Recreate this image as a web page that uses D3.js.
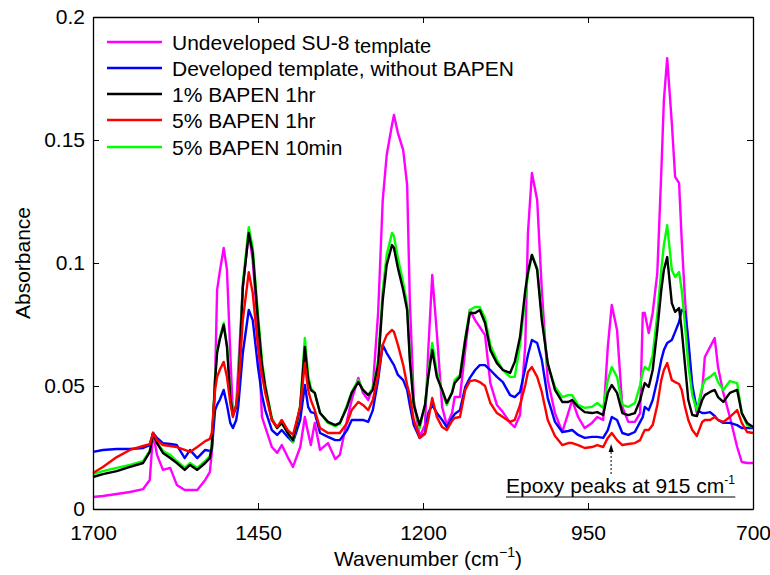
<!DOCTYPE html>
<html>
<head>
<meta charset="utf-8">
<script src="https://cdn.jsdelivr.net/npm/d3@7"></script>
<style>
  body { margin: 0; background: #fff; }
  text { font-family: "Liberation Sans", Arial, Helvetica, sans-serif; }
</style>
</head>
<body>
<svg id="chart" width="770" height="575"></svg>
<script>
// ---------------- DATA ----------------
const wavenumber = [
  1700,1685,1664,1644,1624,1614,1609,1603,1594,1583,
  1573,1561,1553,1542,1530,1523,1520,1515,1512,1508,
  1502,1497,1492,1488,1483,1480,1473,1464,1458,1450,
  1444,1439,1429,1421,1414,1405,1397,1386,1379,1374,
  1370,1364,1356,1344,1333,1326,1315,1308,1298,1291,
  1283,1276,1268,1261,1255,1247,1244,1238,1230,1224,
  1220,1214,1205,1197,1192,1186,1179,1171,1164,1156,
  1152,1144,1136,1129,1121,1114,1106,1098,1088,1079,
  1068,1061,1053,1045,1041,1035,1027,1020,1011,1000,
  989,980,974,965,955,944,936,927,920,914,
  906,898,889,879,871,867,864,858,852,845,
  839,835,830,823,818,812,808,803,798,792,
  785,777,773,765,758,753,745,735,724,717,
  709,700
];

const undevelopedSU8 = [
  .0049,.0053,.0061,.0069,.0081,.0118,.0309,.0220,.0159,.0167,
  .0098,.0077,.0077,.0077,.0118,.0150,.0228,.0524,.0890,.0963,
  .1061,.0972,.0634,.0382,.0423,.0565,.0902,.1126,.1012,.0728,
  .0374,.0333,.0252,.0228,.0260,.0211,.0171,.0252,.0374,.0309,
  .0260,.0350,.0240,.0268,.0203,.0220,.0362,.0443,.0533,.0472,
  .0443,.0496,.0797,.1256,.1439,.1561,.1602,.1528,.1459,.1317,
  .0850,.0443,.0293,.0341,.0646,.0951,.0715,.0415,.0341,.0390,
  .0455,.0455,.0646,.0809,.0768,.0740,.0707,.0512,.0423,.0394,
  .0350,.0333,.0382,.0667,.1122,.1366,.1256,.0890,.0524,.0390,
  .0313,.0390,.0443,.0374,.0329,.0350,.0374,.0362,.0659,.0829,
  .0728,.0415,.0354,.0354,.0390,.0797,.0797,.0715,.0797,.0959,
  .1366,.1663,.1833,.1569,.1350,.1325,.1093,.0850,.0667,.0484,
  .0390,.0484,.0618,.0659,.0695,.0577,.0472,.0374,.0252,.0191,
  .0187,.0187
];

const developedNoBAPEN = [
  .0232,.0240,.0244,.0244,.0248,.0260,.0309,.0289,.0268,.0264,
  .0260,.0207,.0240,.0207,.0240,.0236,.0240,.0402,.0423,.0443,
  .0484,.0423,.0350,.0329,.0362,.0415,.0634,.0809,.0768,.0577,
  .0463,.0402,.0321,.0301,.0321,.0293,.0272,.0362,.0504,.0415,
  .0394,.0390,.0309,.0293,.0280,.0280,.0321,.0362,.0362,.0362,
  .0354,.0402,.0524,.0667,.0634,.0598,.0585,.0545,.0524,.0484,
  .0423,.0341,.0289,.0309,.0390,.0423,.0390,.0362,.0333,.0370,
  .0386,.0402,.0496,.0533,.0565,.0585,.0585,.0565,.0537,.0516,
  .0463,.0455,.0476,.0573,.0626,.0687,.0675,.0606,.0451,.0354,
  .0313,.0317,.0321,.0301,.0289,.0293,.0293,.0289,.0321,.0374,
  .0362,.0309,.0301,.0313,.0354,.0374,.0415,.0402,.0443,.0524,
  .0606,.0646,.0675,.0687,.0720,.0760,.0809,.0801,.0687,.0504,
  .0402,.0390,.0390,.0394,.0378,.0362,.0350,.0350,.0341,.0329,
  .0329,.0329
];

const bapen1pct1hr = [
  .0130,.0142,.0154,.0171,.0187,.0232,.0309,.0268,.0228,.0207,
  .0187,.0159,.0179,.0159,.0187,.0207,.0252,.0524,.0634,.0687,
  .0748,.0659,.0455,.0382,.0415,.0472,.0902,.1122,.1041,.0768,
  .0585,.0496,.0362,.0329,.0350,.0309,.0280,.0415,.0659,.0524,
  .0484,.0472,.0390,.0354,.0341,.0350,.0415,.0472,.0516,.0484,
  .0463,.0484,.0585,.0850,.0992,.1073,.1061,.0980,.0890,.0809,
  .0606,.0423,.0341,.0423,.0537,.0646,.0537,.0484,.0431,.0472,
  .0512,.0537,.0687,.0797,.0797,.0809,.0756,.0646,.0593,.0565,
  .0553,.0598,.0699,.0890,.0963,.1033,.0972,.0768,.0593,.0484,
  .0435,.0435,.0443,.0415,.0394,.0390,.0394,.0382,.0472,.0504,
  .0472,.0390,.0382,.0390,.0443,.0484,.0512,.0496,.0565,.0728,
  .0890,.0972,.1024,.0837,.0801,.0817,.0728,.0585,.0443,.0382,
  .0378,.0443,.0463,.0476,.0484,.0455,.0435,.0472,.0484,.0390,
  .0350,.0333
];

const bapen5pct1hr = [
  .0146,.0171,.0211,.0240,.0256,.0264,.0309,.0280,.0260,.0256,
  .0252,.0240,.0232,.0252,.0276,.0285,.0309,.0484,.0537,.0565,
  .0598,.0537,.0431,.0374,.0423,.0484,.0768,.0963,.0878,.0659,
  .0545,.0472,.0362,.0333,.0362,.0321,.0301,.0415,.0593,.0484,
  .0443,.0402,.0329,.0309,.0309,.0309,.0350,.0402,.0435,.0423,
  .0402,.0443,.0545,.0667,.0707,.0728,.0720,.0667,.0585,.0504,
  .0463,.0362,.0289,.0305,.0362,.0451,.0374,.0333,.0321,.0358,
  .0370,.0374,.0484,.0520,.0524,.0516,.0500,.0431,.0390,.0374,
  .0354,.0362,.0423,.0504,.0557,.0577,.0537,.0476,.0362,.0297,
  .0260,.0268,.0268,.0260,.0248,.0252,.0260,.0252,.0289,.0309,
  .0280,.0260,.0264,.0268,.0280,.0305,.0321,.0321,.0341,.0423,
  .0524,.0565,.0593,.0524,.0516,.0508,.0484,.0415,.0362,.0321,
  .0297,.0354,.0362,.0362,.0374,.0362,.0354,.0374,.0402,.0350,
  .0313,.0309
];

const bapen5pct10min = [
  .0142,.0154,.0167,.0179,.0195,.0236,.0309,.0272,.0236,.0220,
  .0195,.0167,.0187,.0167,.0195,.0215,.0256,.0533,.0646,.0695,
  .0756,.0667,.0463,.0386,.0423,.0484,.0919,.1146,.1061,.0789,
  .0606,.0504,.0370,.0329,.0350,.0309,.0272,.0423,.0695,.0545,
  .0492,.0472,.0390,.0350,.0337,.0346,.0423,.0476,.0524,.0484,
  .0463,.0492,.0606,.0890,.1033,.1122,.1110,.1020,.0919,.0829,
  .0626,.0423,.0329,.0423,.0557,.0675,.0557,.0476,.0423,.0476,
  .0524,.0545,.0695,.0809,.0821,.0821,.0776,.0667,.0606,.0565,
  .0537,.0537,.0667,.0862,.0951,.1033,.0980,.0789,.0585,.0496,
  .0455,.0463,.0463,.0423,.0411,.0415,.0431,.0411,.0524,.0577,
  .0537,.0423,.0415,.0431,.0504,.0557,.0577,.0565,.0626,.0789,
  .0972,.1073,.1154,.0972,.0943,.0963,.0890,.0748,.0585,.0463,
  .0402,.0496,.0524,.0537,.0553,.0516,.0484,.0520,.0512,.0390,
  .0341,.0333
];

const xTicks = [1700, 1450, 1200, 950, 700];
const yTicks = [0, 0.05, 0.1, 0.15, 0.2];
const yTickLabels = ["0", "0.05", "0.1", "0.15", "0.2"];

const seriesNames = [
  "Undeveloped SU-8",
  "Developed template, without BAPEN",
  "1% BAPEN 1hr",
  "5% BAPEN 1hr",
  "5% BAPEN 10min"
];
const seriesColors = ["#ff00ff", "#0000ff", "#000000", "#ff0000", "#00ff00"];
const seriesValues = [undevelopedSU8, developedNoBAPEN, bapen1pct1hr, bapen5pct1hr, bapen5pct10min];

// ---------------- CHART ----------------
const svg = d3.select("#chart");
svg.append("rect").attr("width", 770).attr("height", 575).attr("fill", "#fff");

const L = 93, R = 753, T = 17, B = 509;
const x = d3.scaleLinear().domain([1700, 700]).range([L, R]);
const y = d3.scaleLinear().domain([0, 0.2]).range([B, T]);

// curves (draw order: magenta, blue, green, black, red)
const drawOrder = [0, 1, 4, 2, 3];
const line = d3.line()
  .x((d, i) => x(wavenumber[i]))
  .y(d => y(d));

const plot = svg.append("g");
drawOrder.forEach(k => {
  plot.append("path")
    .datum(seriesValues[k])
    .attr("fill", "none")
    .attr("stroke", seriesColors[k])
    .attr("stroke-width", 2.4)
    .attr("stroke-linejoin", "round")
    .attr("d", line);
});

// axes
const fontSize = 21;
const axB = svg.append("g").attr("transform", `translate(0,${B})`)
  .call(d3.axisBottom(x).tickValues(xTicks).tickFormat(d3.format("d")).tickSizeInner(-6).tickSizeOuter(0).tickPadding(16));
const axT = svg.append("g").attr("transform", `translate(0,${T})`)
  .call(d3.axisTop(x).tickValues(xTicks).tickFormat("").tickSizeInner(-6).tickSizeOuter(0));
const axL = svg.append("g").attr("transform", `translate(${L},0)`)
  .call(d3.axisLeft(y).tickValues(yTicks).tickFormat((d, i) => yTickLabels[i]).tickSizeInner(-6).tickSizeOuter(0).tickPadding(8));
const axR = svg.append("g").attr("transform", `translate(${R},0)`)
  .call(d3.axisRight(y).tickValues(yTicks).tickFormat("").tickSizeInner(-6).tickSizeOuter(0));

[axB, axT, axL, axR].forEach(g => {
  g.selectAll("path.domain").attr("stroke", "#000").attr("stroke-width", 1.3);
  g.selectAll(".tick line").attr("stroke", "#000").attr("stroke-width", 1);
  g.selectAll("text").attr("font-size", fontSize).attr("fill", "#000")
    .style("font-family", '"Liberation Sans", Arial, sans-serif');
});

// axis labels
const xl = svg.append("text")
  .attr("x", 428).attr("y", 566).attr("text-anchor", "middle")
  .attr("font-size", fontSize);
xl.append("tspan").text("Wavenumber (cm");
xl.append("tspan").attr("font-size", 14).attr("dy", -9).text("\u22121");
xl.append("tspan").attr("dy", 9).text(")");

svg.append("text")
  .attr("transform", "translate(30,263) rotate(-90)")
  .attr("text-anchor", "middle")
  .attr("font-size", fontSize)
  .text("Absorbance");

// legend
const legendY = [42, 68, 94, 120, 147];
seriesNames.forEach((name, i) => {
  const g = svg.append("g");
  g.append("line")
    .attr("x1", 107).attr("x2", 162)
    .attr("y1", legendY[i]).attr("y2", legendY[i])
    .attr("stroke", seriesColors[i]).attr("stroke-width", 2.4);
  const t = g.append("text")
    .attr("x", 172).attr("y", legendY[i] + 7.5)
    .attr("font-size", fontSize)
    .text(name);
  if (i === 0) {
    t.append("tspan").attr("dx", 5).attr("dy", 3).attr("font-size", 20).text("template");
  }
});

// annotation
const ann = svg.append("text")
  .attr("x", 506).attr("y", 493)
  .attr("font-size", fontSize);
ann.append("tspan").text("Epoxy peaks at 915 cm");
ann.append("tspan").attr("font-size", 12).attr("dy", -9).text("-1");
const annBox = ann.node().getBBox();
svg.append("line")
  .attr("x1", 506).attr("x2", annBox.x + annBox.width)
  .attr("y1", 497).attr("y2", 497)
  .attr("stroke", "#000").attr("stroke-width", 1);

const ax = x(915);
svg.append("line")
  .attr("x1", ax).attr("x2", ax)
  .attr("y1", 474).attr("y2", 451)
  .attr("stroke", "#000").attr("stroke-width", 1)
  .attr("stroke-dasharray", "2,2");
svg.append("path")
  .attr("d", `M${ax},444 L${ax - 2.5},452 L${ax + 2.5},452 Z`)
  .attr("fill", "#000");
</script>
</body>
</html>
